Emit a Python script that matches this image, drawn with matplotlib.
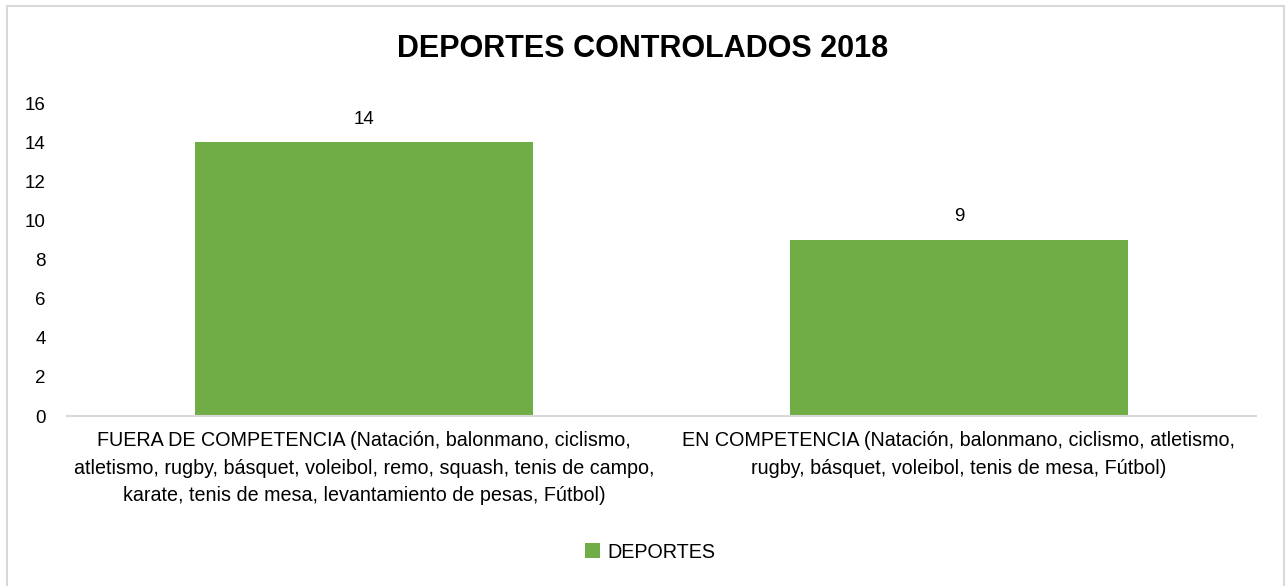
import matplotlib
matplotlib.use("Agg")
import matplotlib.pyplot as plt
from matplotlib.patches import Rectangle
from matplotlib import font_manager

categories = [
    "FUERA DE COMPETENCIA (Natación, balonmano, ciclismo,\natletismo, rugby, básquet, voleibol, remo, squash, tenis de campo,\nkarate, tenis de mesa, levantamiento de pesas, Fútbol)",
    "EN COMPETENCIA (Natación, balonmano, ciclismo, atletismo,\nrugby, básquet, voleibol, tenis de mesa, Fútbol)",
]
values = [14, 9]
series_name = "DEPORTES"
title = "DEPORTES CONTROLADOS 2018"
yticks = [0, 2, 4, 6, 8, 10, 12, 14, 16]

names = {f.name for f in font_manager.fontManager.ttflist}
fam = "Liberation Sans Narrow" if "Liberation Sans Narrow" in names else "Liberation Sans"
plt.rcParams['font.family'] = [fam, 'DejaVu Sans']

fig = plt.figure(figsize=(12.85, 5.86), dpi=100)
ax = fig.add_axes([0.0518, 0.290, 0.926, 0.534])
x = list(range(len(categories)))
bars = ax.bar(x, values, width=0.568, color="#70AD47", label=series_name)
for xi, v in zip(x, values):
    ax.text(xi, v + 0.75, str(v), ha="center", va="bottom", fontsize=13.5, color="#000000")
ax.set_xlim(-0.5, 1.5)
ax.set_ylim(0, 16)
ax.set_yticks(yticks)
ax.set_xticks(x)
ax.set_xticklabels(categories, fontsize=14.2, linespacing=1.55)
ax.tick_params(axis="y", length=0, labelsize=13.5, pad=15)
ax.tick_params(axis="x", length=0, pad=11)
for s in ["top", "right", "left"]:
    ax.spines[s].set_visible(False)
ax.spines["bottom"].set_color("#D9D9D9")
ax.spines["bottom"].set_linewidth(1.5)

fig.text(0.5, 0.916, title, ha="center", va="center", fontsize=22, fontweight="bold")
leg = fig.legend(handles=[bars], labels=[series_name], loc="center", bbox_to_anchor=(0.506, 0.058),
                 frameon=False, fontsize=14.2, handlelength=0.75, handleheight=0.75, handletextpad=0.35)

fig.patches.append(Rectangle((0.0052, -0.02), 0.994, 1.009, transform=fig.transFigure,
                             fill=False, edgecolor="#D9D9D9", linewidth=1.5))
fig.savefig("out.png", dpi=100)
